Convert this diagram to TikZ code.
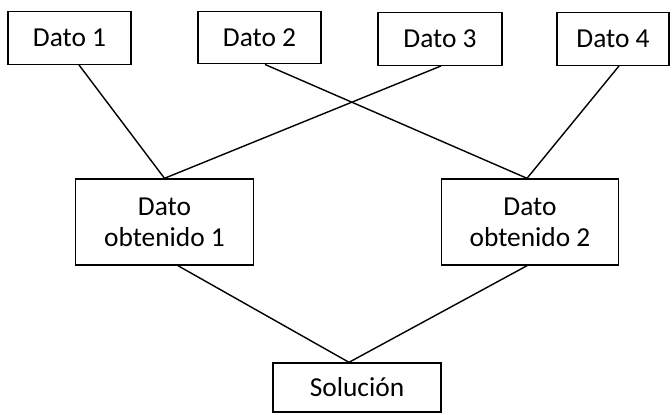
\documentclass[tikz,border=0pt]{standalone}
\usepackage{fontspec}
\setmainfont{Carlito}
\usepackage{tikz}

\begin{document}
\begin{tikzpicture}[
    x=0.02cm,
    y=-0.02cm,
    box/.style={
        rectangle,
        draw,
        line width=0.8pt,
        inner sep=0pt,
        align=center,
        font=\fontsize{15.6}{17.8}\selectfont
    },
    dato/.style={
        box,
        minimum width=2.46cm,
        minimum height=1.05cm
    },
    obtenido/.style={
        box,
        minimum width=3.55cm,
        minimum height=1.72cm
    },
    linea/.style={line width=0.8pt}
]
\useasboundingbox (0,0) rectangle (672,414);

% Datos iniciales
\node[dato] (d1) at (69.5,38) {Dato 1};
\node[dato] (d2) at (259.5,37.5) {Dato 2};
\node[dato, minimum width=2.48cm] (d3) at (440,39) {Dato 3};
\node[dato, minimum width=2.24cm] (d4) at (613,39) {Dato 4};

% Datos obtenidos
\node[obtenido] (o1) at (164.5,222) {Dato\\obtenido 1};
\node[obtenido] (o2) at (530,222) {Dato\\obtenido 2};

% Solucion
\node[box, minimum width=3.36cm, minimum height=0.98cm] (s) at (357,387.5) {Solución};

\draw[linea] ([xshift=0.19cm]d1.south) -- (o1.north);
\draw[linea] ([xshift=0.02cm]d3.south) -- (o1.north);
\draw[linea] ([xshift=0.11cm]d2.south) -- ([xshift=-0.06cm]o2.north);
\draw[linea] ([xshift=0.12cm]d4.south) -- ([xshift=-0.06cm]o2.north);
\draw[linea] ([xshift=0.27cm]o1.south) -- ([xshift=-0.16cm]s.north);
\draw[linea] ([xshift=-0.06cm]o2.south) -- ([xshift=-0.16cm]s.north);

\end{tikzpicture}
\end{document}
